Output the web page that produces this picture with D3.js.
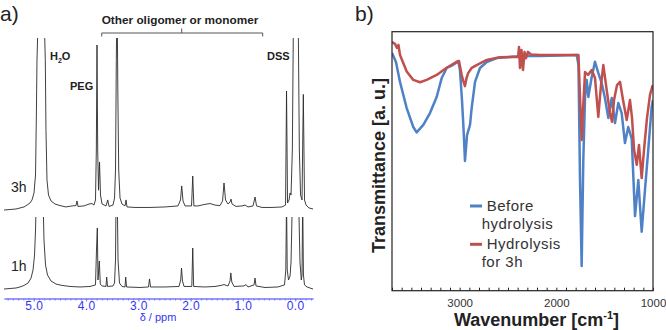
<!DOCTYPE html>
<html>
<head>
<meta charset="utf-8">
<script src="https://cdn.jsdelivr.net/npm/d3@7/dist/d3.min.js"></script>
<style>
body { margin:0; background:#fff; }
svg { display:block; font-family:"Liberation Sans", Arial, sans-serif; }
</style>
</head>
<body>
<div id="chart"></div>
<script>
////////////////////////////////////////////////////////////
//////////////////////// Data //////////////////////////////
////////////////////////////////////////////////////////////

// a) 1H NMR, [ppm, intensity a.u.]
var nmr3h = [[5.57,-0.6],[5.455,-0.3],[5.34,0],[5.264,0.6],[5.187,1.2],[5.13,2.3],[5.073,3.5],[5.034,5.3],
  [4.996,9.4],[4.967,19.9],[4.952,52],[4.939,87],[4.923,105],[4.862,130],[4.795,105],[4.78,87],[4.767,46],
  [4.748,17],[4.719,8.2],[4.671,4.7],[4.594,2.9],[4.499,2.0],[4.384,1.2],[4.27,1.8],[4.193,2.0],[4.174,4.7],
  [4.155,1.5],[4.04,1.8],[3.944,2.9],[3.887,3.2],[3.849,2.3],[3.82,5.3],[3.804,34.5],[3.791,95.9],[3.778,34.5],
  [3.762,11],[3.743,27.5],[3.724,8.2],[3.695,2.9],[3.619,1.8],[3.586,5.3],[3.561,1.5],[3.485,2.3],[3.456,6.4],
  [3.437,22.8],[3.422,87],[3.414,110],[3.403,110],[3.393,69.6],[3.376,22.8],[3.351,6.4],[3.313,2.9],[3.255,1.8],
  [3.236,5.3],[3.217,1.2],[3.064,0.9],[2.777,0.9],[2.49,1.2],[2.242,1.8],[2.194,5.3],[2.171,13.5],[2.146,4.7],
  [2.108,1.8],[1.983,1.8],[1.96,19.3],[1.939,1.8],[1.859,1.8],[1.744,2.6],[1.63,3.2],[1.534,2.3],[1.438,2.0],
  [1.39,4.7],[1.362,15.2],[1.333,5.3],[1.285,2.9],[1.247,4.1],[1.228,5.8],[1.209,2.9],[1.133,1.5],[1.018,1.8],
  [0.96,2.3],[0.903,1.2],[0.807,1.8],[0.769,7.0],[0.74,1.8],[0.635,0.9],[0.444,0.9],[0.253,1.2],[0.185,2.3],
  [0.166,69],[0.147,3.5],[0.118,5.3],[0.099,9.4],[0.08,8.2],[0.055,34.5],[0.036,105],[-0.012,130],[-0.059,105],
  [-0.079,34.5],[-0.102,8.2],[-0.13,5.3],[-0.155,67],[-0.178,5.3],[-0.207,2.3],[-0.264,0.6],[-0.34,0]];

var nmr1h = [[5.57,-0.6],[5.455,-0.3],[5.34,0],[5.264,0.6],[5.187,1.5],[5.11,2.9],[5.053,5.8],[5.015,10.5],
  [4.986,19.3],[4.967,33.9],[4.958,45.6],[4.891,80],[4.818,45.6],[4.805,28],[4.776,13.5],[4.738,7.6],[4.671,4.1],
  [4.575,2.3],[4.46,1.5],[4.308,0.9],[4.116,0.6],[3.925,0.9],[3.82,1.8],[3.801,22.2],[3.785,35.1],[3.772,4.7],
  [3.747,15.8],[3.728,2.3],[3.695,1.2],[3.619,0.9],[3.606,6.4],[3.59,0.9],[3.485,1.2],[3.456,2.9],[3.437,16.4],
  [3.427,51.5],[3.414,80],[3.403,51.5],[3.389,16.4],[3.361,2.9],[3.313,0.9],[3.255,0.6],[3.242,6.4],[3.227,0.6],
  [2.969,0.3],[2.806,0.6],[2.787,5.3],[2.768,0.6],[2.49,0.6],[2.223,0.9],[2.19,4.7],[2.175,11.7],[2.156,4.1],
  [2.127,0.9],[1.978,0.9],[1.96,23.4],[1.943,0.9],[1.725,0.6],[1.534,0.9],[1.419,1.5],[1.362,2.0],[1.285,1.2],
  [1.247,4.1],[1.232,8.8],[1.213,3.5],[1.17,0.9],[0.979,1.2],[0.94,2.0],[0.903,0.6],[0.788,1.8],[0.769,5.8],
  [0.75,1.2],[0.578,0.3],[0.329,0.6],[0.205,1.8],[0.18,10.5],[0.166,51.5],[0.153,10.5],[0.128,4.7],[0.099,7.0],
  [0.08,15.2],[0.061,42.7],[-0.006,80],[-0.072,42.7],[-0.091,15.2],[-0.116,4.7],[-0.13,7.6],[-0.143,51.5],
  [-0.157,7.6],[-0.178,1.8],[-0.226,0.6],[-0.283,0],[-0.34,-0.6]];

var nmrTicks = [5, 4, 3, 2, 1, 0];

// b) FT-IR, [wavenumber, transmittance a.u.]
var irBefore = [[3700,91.8],[3659,88.3],[3617,80.6],[3548,70.5],[3480,63.2],[3445,61.1],[3376,64.0],[3307,68.6],
  [3238,74.8],[3186,82.1],[3134,86.0],[3082,86.9],[3014,88.5],[2997,85.2],[2976,73.6],[2962,64.0],[2945,50.1],
  [2924,60.1],[2893,64.0],[2876,70.5],[2841,80.6],[2790,86.0],[2720,88.3],[2617,89.8],[2479,90.2],[2324,90.6],
  [2169,90.6],[1962,90.8],[1789,91.0],[1771,87.1],[1755,42.7],[1738,9.5],[1721,50.5],[1703,74.8],[1686,81.4],
  [1669,74.8],[1634,82.5],[1600,88.4],[1566,84.1],[1531,80.2],[1497,74.4],[1462,66.7],[1427,74.4],[1393,64.7],
  [1359,72.5],[1324,68.6],[1290,57.0],[1256,63.2],[1220,58.6],[1186,28.8],[1152,42.7],[1117,22.8],[1083,38.9],
  [1049,54.4],[1014,71.0],[1000,73.6]];

var irHydro = [[3700,96.0],[3669,95.3],[3648,93.7],[3633,94.9],[3617,91.0],[3548,84.6],[3480,81.4],[3410,80.5],
  [3341,81.4],[3238,83.3],[3134,86.1],[3031,88.4],[3007,88.7],[2979,83.3],[2960,80.6],[2945,79.0],[2929,82.1],
  [2911,84.1],[2876,86.0],[2824,87.1],[2720,89.1],[2583,90.1],[2445,90.3],[2396,90.2],[2386,94.1],[2376,86.0],
  [2360,92.9],[2345,85.2],[2329,92.2],[2314,89.8],[2293,92.2],[2262,91.2],[2169,91.0],[1962,91.0],[1771,91.0],
  [1750,69.8],[1738,58.2],[1724,69.8],[1703,84.4],[1672,83.3],[1634,85.2],[1600,82.1],[1566,67.1],[1538,79.4],
  [1514,87.1],[1479,77.5],[1445,68.6],[1424,65.2],[1403,73.6],[1372,79.4],[1341,80.6],[1310,73.6],[1272,65.9],
  [1238,73.6],[1217,66.7],[1196,54.4],[1168,48.6],[1145,56.3],[1117,43.5],[1093,54.4],[1062,66.7],[1031,75.6],
  [1003,79.4]];

var irTicks = [3000, 2000, 1000];
var irLegend = [["Before", "hydrolysis"], ["Hydrolysis", "for 3h"]];
var irColors = ["#4F81C6", "#C0504D"];

////////////////////////////////////////////////////////////
//////////////////////// Set-Up ////////////////////////////
////////////////////////////////////////////////////////////
var width = 666, height = 330;

var svg = d3.select("#chart").append("svg")
  .attr("width", width)
  .attr("height", height);

var defs = svg.append("defs");
defs.append("clipPath").attr("id", "clip3h")
  .append("rect").attr("x", 0).attr("y", 38).attr("width", 340).attr("height", 260);
defs.append("clipPath").attr("id", "clip1h")
  .append("rect").attr("x", 0).attr("y", 217).attr("width", 340).attr("height", 80);
defs.append("clipPath").attr("id", "clipIr")
  .append("rect").attr("x", 392).attr("y", 31.7).attr("width", 261).attr("height", 259);

////////////////////////////////////////////////////////////
//////////////////////// Panel a ///////////////////////////
////////////////////////////////////////////////////////////
var xNmr = d3.scaleLinear().domain([5.57, -0.34]).range([4, 313]);
var yNmr3h = d3.scaleLinear().domain([0, 100]).range([209, 38]);
var yNmr1h = d3.scaleLinear().domain([0, 100]).range([288, 117]);

var lineA3 = d3.line().x(function(d) { return xNmr(d[0]); }).y(function(d) { return yNmr3h(d[1]); });
var lineA1 = d3.line().x(function(d) { return xNmr(d[0]); }).y(function(d) { return yNmr1h(d[1]); });

svg.append("path").datum(nmr3h)
  .attr("d", lineA3)
  .attr("clip-path", "url(#clip3h)")
  .style("fill", "none").style("stroke", "#2a2a2a").style("stroke-width", 0.9);
svg.append("path").datum(nmr1h)
  .attr("d", lineA1)
  .attr("clip-path", "url(#clip1h)")
  .style("fill", "none").style("stroke", "#2a2a2a").style("stroke-width", 0.9);

// ppm axis (blue)
var minorTicks = d3.range(-3, 56).map(function(i) { return i / 10; });
var axisA = svg.append("g").attr("transform", "translate(0,298.5)");
axisA.append("g")
  .call(d3.axisBottom(xNmr).tickValues(minorTicks).tickSize(2).tickSizeOuter(0).tickFormat(""));
axisA.append("g")
  .call(d3.axisBottom(xNmr).tickValues(nmrTicks).tickSize(3).tickSizeOuter(0).tickFormat(d3.format(".1f")));
axisA.selectAll("path, line").style("stroke", "#7777ff");
axisA.selectAll("text")
  .attr("y", 3).attr("dy", "0.71em")
  .style("fill", "#3535f0").style("font-size", "12px")
  .style("font-family", "'Liberation Sans', Arial, sans-serif")
  .style("letter-spacing", "0.4px");

svg.append("text").attr("x", 158).attr("y", 321)
  .attr("text-anchor", "middle")
  .style("font-size", "11px").style("fill", "#3535f0")
  .text("δ / ppm");

// labels
svg.append("text").attr("x", 0).attr("y", 21).style("font-size", "21px").style("fill", "#222").text("a)");
svg.append("text").attr("x", 11).attr("y", 192).style("font-size", "14px").style("fill", "#222").text("3h");
svg.append("text").attr("x", 11).attr("y", 271).style("font-size", "14px").style("fill", "#222").text("1h");

var h2o = svg.append("text").attr("x", 50).attr("y", 60)
  .style("font-size", "11px").style("font-weight", "bold").style("fill", "#222");
h2o.append("tspan").text("H");
h2o.append("tspan").attr("dy", 2.5).style("font-size", "7px").text("2");
h2o.append("tspan").attr("dy", -2.5).text("O");

svg.append("text").attr("x", 70).attr("y", 90)
  .style("font-size", "11px").style("font-weight", "bold").style("fill", "#222").text("PEG");
svg.append("text").attr("x", 267).attr("y", 60)
  .style("font-size", "11px").style("font-weight", "bold").style("fill", "#222").text("DSS");
svg.append("text").attr("x", 180).attr("y", 24).attr("text-anchor", "middle")
  .style("font-size", "11.8px").style("font-weight", "bold").style("fill", "#222")
  .text("Other oligomer or monomer");

// bracket
svg.append("path")
  .attr("d", "M101.7,36.5V33H262.7V36.5M181.7,33V28.5")
  .style("fill", "none").style("stroke", "#555").style("stroke-width", 1);

////////////////////////////////////////////////////////////
//////////////////////// Panel b ///////////////////////////
////////////////////////////////////////////////////////////
var xIr = d3.scaleLinear().domain([3700, 1000]).range([392, 653]);
var yIr = d3.scaleLinear().domain([0, 100]).range([290.7, 31.7]);

var lineB = d3.line().x(function(d) { return xIr(d[0]); }).y(function(d) { return yIr(d[1]); });

svg.append("text").attr("x", 355).attr("y", 21).style("font-size", "21px").style("fill", "#222").text("b)");

var irGroup = svg.append("g").attr("clip-path", "url(#clipIr)");
[irBefore, irHydro].forEach(function(series, i) {
  irGroup.append("path").datum(series)
    .attr("d", lineB)
    .style("fill", "none")
    .style("stroke", irColors[i])
    .style("stroke-width", 2.5)
    .style("stroke-linejoin", "round");
});

svg.append("rect")
  .attr("x", 392).attr("y", 31.7).attr("width", 261).attr("height", 259)
  .style("fill", "none").style("stroke", "#222").style("stroke-width", 1.2);

var axisB = svg.append("g").attr("transform", "translate(0,290.7)");
axisB.call(d3.axisBottom(xIr)
  .tickValues(d3.range(1000, 3701, 100))
  .tickSize(-3).tickSizeOuter(0)
  .tickFormat(function(d) { return irTicks.indexOf(d) > -1 ? d : ""; }));
axisB.select(".domain").remove();
axisB.selectAll("line").style("stroke", "#222");
axisB.selectAll("text")
  .attr("y", 8.5).attr("dy", "0.71em")
  .style("font-size", "11.5px").style("fill", "#333")
  .style("font-family", "'Liberation Sans', Arial, sans-serif");

var xLab = svg.append("text").attr("x", 536.5).attr("y", 326).attr("text-anchor", "middle")
  .style("font-size", "18px").style("font-weight", "bold").style("fill", "#222");
xLab.append("tspan").text("Wavenumber [cm");
xLab.append("tspan").attr("dy", -7).style("font-size", "11px").text("-1");
xLab.append("tspan").attr("dy", 7).text("]");

svg.append("text")
  .attr("transform", "translate(385,165.5) rotate(-90)")
  .attr("text-anchor", "middle")
  .style("font-size", "18px").style("font-weight", "bold").style("fill", "#222")
  .text("Transmittance [a. u.]");

// legend
irLegend.forEach(function(lab, i) {
  var y0 = i === 0 ? 206 : 244.3;
  svg.append("line")
    .attr("x1", 470).attr("x2", 482).attr("y1", y0).attr("y2", y0)
    .style("stroke", irColors[i]).style("stroke-width", 3);
  svg.append("text").attr("x", 486.7).attr("y", y0 + 5)
    .style("font-size", "15px").style("fill", "#333").style("letter-spacing", "0.5px")
    .text(lab[0]);
  svg.append("text").attr("x", 481.7).attr("y", y0 + 22.5)
    .style("font-size", "15px").style("fill", "#333").style("letter-spacing", "0.5px")
    .text(lab[1]);
});
</script>
</body>
</html>
